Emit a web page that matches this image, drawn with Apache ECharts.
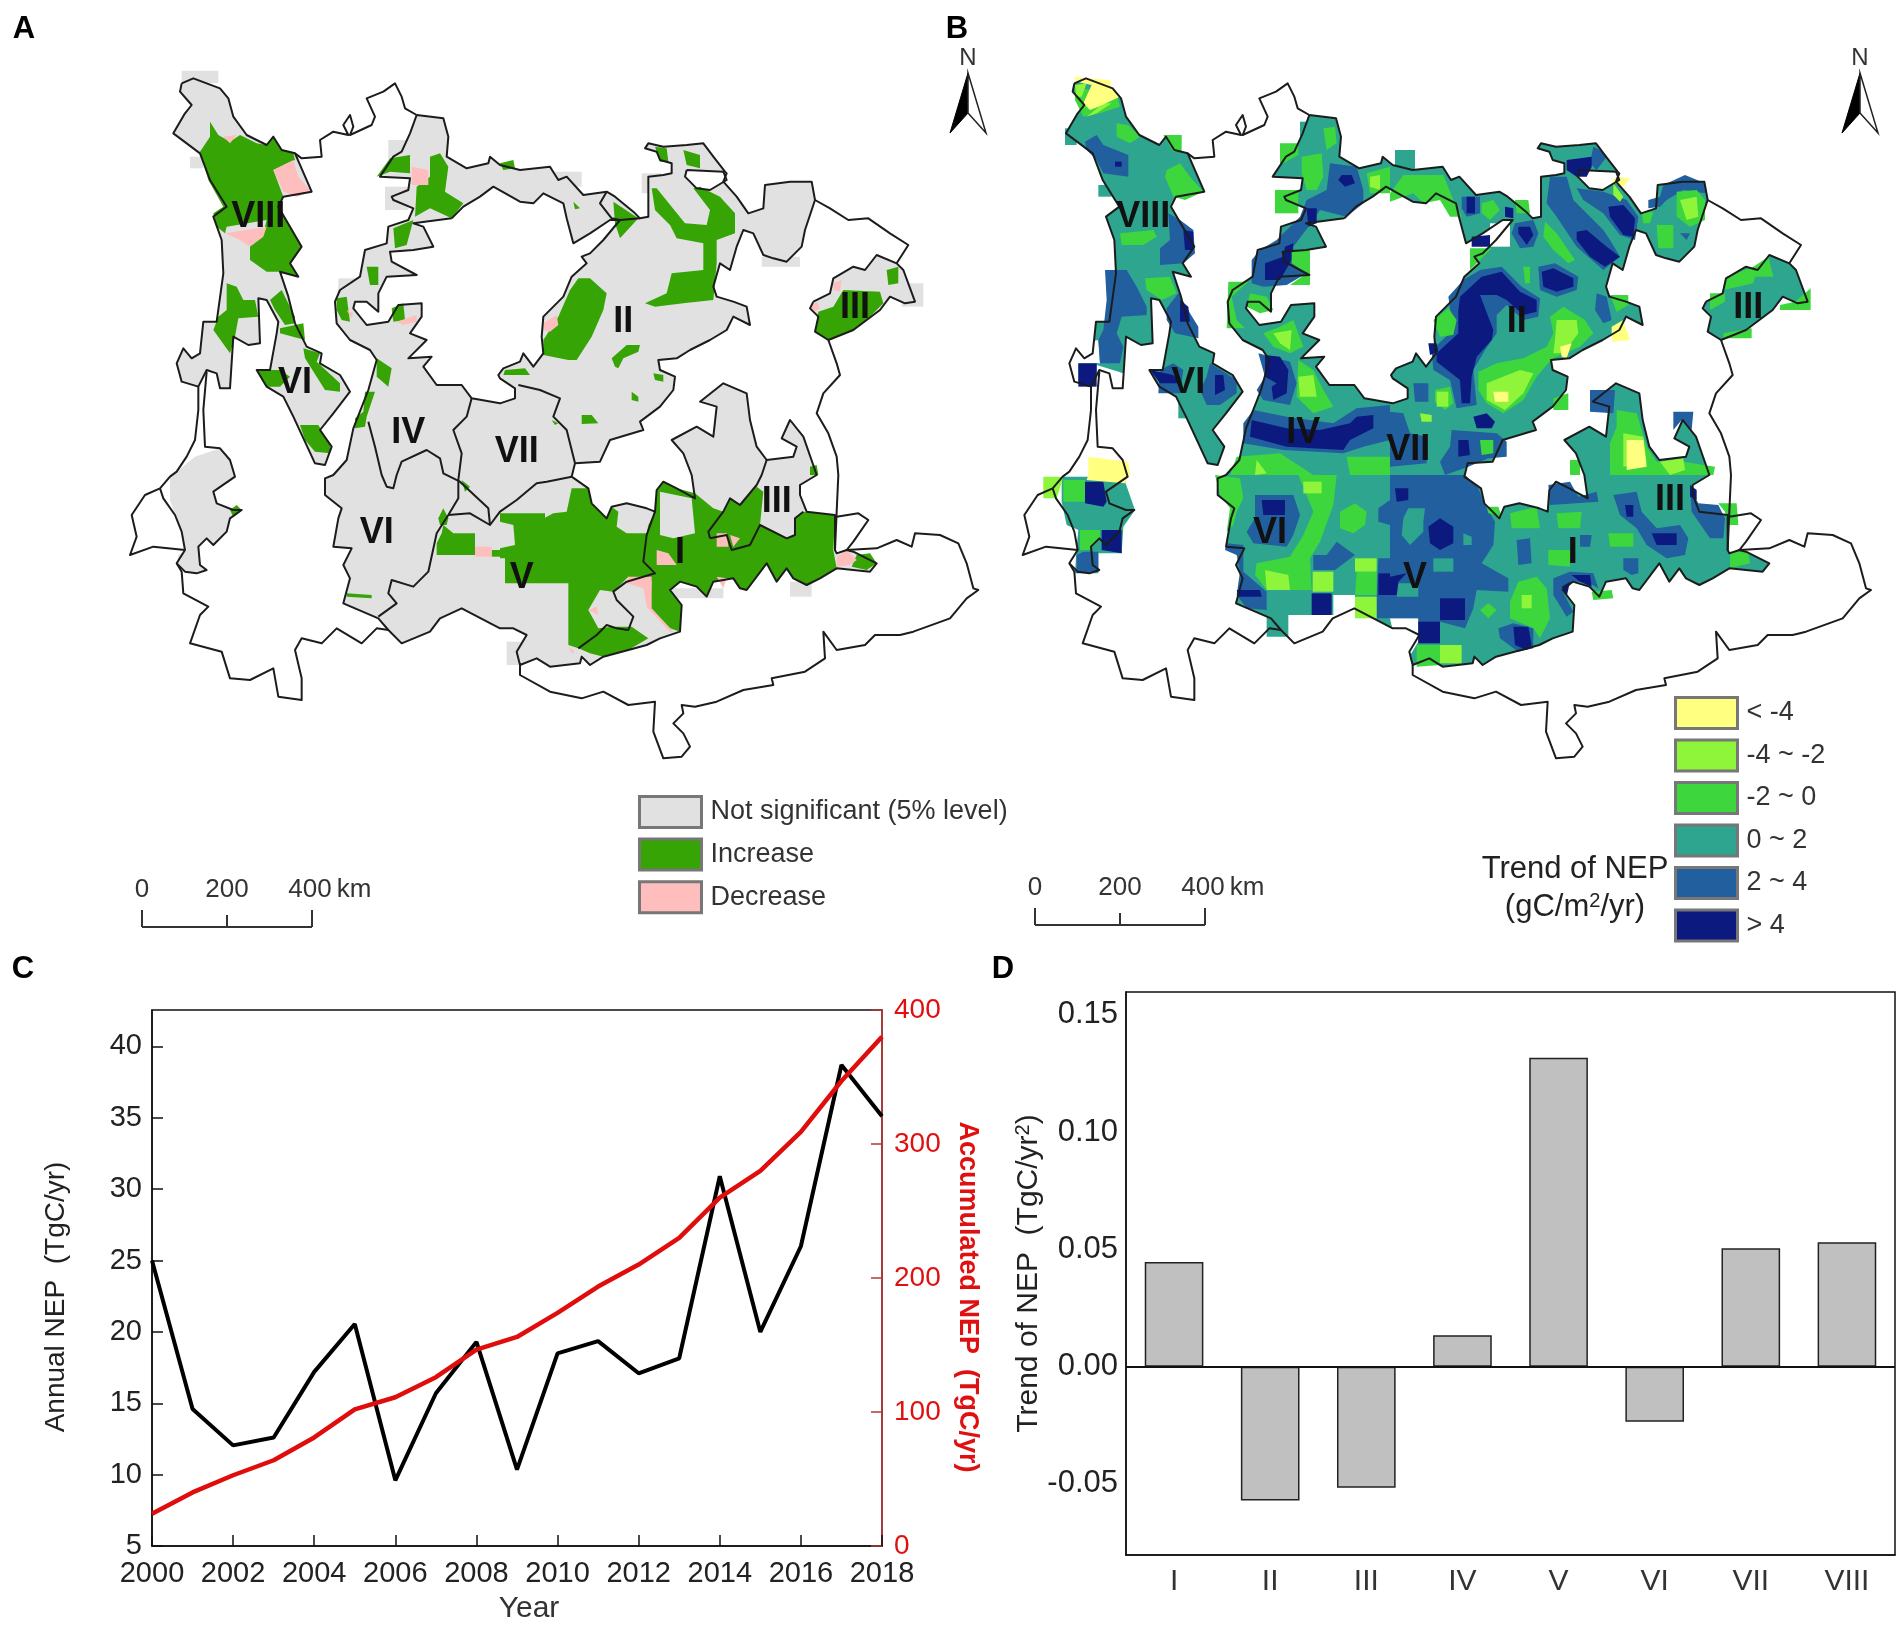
<!DOCTYPE html>
<html>
<head>
<meta charset="utf-8">
<title>NEP trend</title>
<script src="https://cdn.jsdelivr.net/npm/echarts@6/dist/echarts.min.js"></script>
<style>
html,body{margin:0;padding:0;background:#fff}
#main{width:1904px;height:1625px}
</style>
</head>
<body>
<div id="main"></div>
<script>
// panel C
var years = [2000,2001,2002,2003,2004,2005,2006,2007,2008,2009,2010,2011,2012,2013,2014,2015,2016,2017,2018];
var annualNEP = [25,14.6,12.05,12.6,17.2,20.55,9.6,15.7,19.3,10.35,18.5,19.35,17.1,18.15,30.9,20,26,38.7,35.1];
var accumulatedNEP = [24,40,52.8,64,81,102,111,126,146.5,156,174,193.6,210,230,260,280,309,347,380];

// panel D
var regions = ['I','II','III','IV','V','VI','VII','VIII'];
var regionTrend = [0.0446,-0.0571,-0.0516,0.0134,0.1317,-0.0235,0.0505,0.053];
var trendTicks = [-0.05,0,0.05,0.10,0.15];

// legends
var legendA = ['Not significant (5% level)','Increase','Decrease'];
var legendB = ['< -4','-4 ~ -2','-2 ~ 0','0 ~ 2','2 ~ 4','> 4'];
var scaleTicks = ['0','200','400'];

// map rings, flat x,y lists in map units (3000 x 2850 for a panel)
function at(dx,dy,rings){ return rings.map(function(r){ return r.map(function(v,i){ return v+(i%2?dy:dx); }); }); }
function NE(r){ return at(1500,0,r); }
function SW(r){ return at(0,1425,r); }
function SE(r){ return at(1500,1425,r); }

var landWest = [545,250,580,235,660,265,685,295,700,350,740,405,800,435,820,410,845,450,885,460,935,575,850,590,835,620,870,680,905,740,870,790,895,830,840,815,865,890,885,970,920,1040,965,1060,960,1090,1020,1125,1050,1175,1000,1240,960,1290,995,1340,975,1395,945,1390,880,1250,850,1190,800,1160,770,1110,810,1110,830,1000,835,965,800,900,775,895,780,1030,745,1035,700,1010,690,1165,660,1165,650,1120,620,1110,595,1160,545,1145,530,1090,550,1045,575,1075,600,1060,610,965,650,965,670,820,665,720,640,650,680,620,630,540,600,460,520,400,555,340,575,315,540,275];
var landSouthWest = [585,1370,660,1345,690,1380,705,1435,640,1475,650,1510,700,1530,725,1530,690,1555,680,1595,640,1635,620,1615,595,1640,600,1695,620,1710,590,1720,555,1715,530,1690,535,1665,560,1650,545,1595,525,1545,510,1500,510,1430,530,1415];
var landMain = [1250,345,1330,355,1345,410,1340,470,1400,505,1465,490,1470,470,1500,495,1560,510,1650,500,1675,540,1700,530,1750,585,1820,575,1845,590,1900,635,1920,655,1945,650,1945,530,1990,525,2015,520,2015,490,1980,480,1970,455,1935,445,1945,430,1990,440,2060,435,2110,430,2140,470,2175,515,2180,520,2170,545,2210,590,2245,640,2290,625,2295,555,2370,545,2435,545,2445,600,2415,690,2405,740,2360,785,2320,775,2290,765,2260,700,2230,690,2210,740,2190,810,2160,790,2140,860,2150,890,2200,905,2240,920,2250,975,2200,950,2180,990,2130,1020,2070,1050,2030,1075,1975,1080,1980,1110,2025,1130,2020,1170,1980,1220,1920,1265,1930,1290,1830,1320,1800,1385,1725,1390,1715,1430,1765,1465,1775,1510,1820,1555,1835,1520,1880,1510,1940,1525,1965,1535,1970,1470,1990,1445,2030,1465,2085,1495,2075,1425,2050,1360,2015,1320,2090,1280,2140,1310,2150,1220,2100,1205,2170,1150,2240,1180,2250,1260,2270,1340,2300,1380,2380,1370,2390,1340,2345,1315,2370,1260,2410,1310,2445,1410,2450,1425,2400,1455,2400,1485,2420,1535,2505,1545,2505,1650,2510,1660,2540,1650,2560,1655,2630,1690,2610,1715,2560,1710,2510,1705,2460,1735,2420,1755,2380,1735,2360,1705,2330,1745,2300,1690,2240,1770,2220,1765,2200,1735,2140,1745,2120,1790,2090,1760,2040,1745,2010,1770,2045,1815,2040,1895,1980,1915,1940,1935,1885,1950,1810,1970,1770,1995,1745,1970,1740,1990,1650,2000,1610,1975,1560,1995,1550,1955,1580,1905,1540,1885,1500,1885,1385,1825,1320,1855,1290,1895,1205,1930,1165,1890,1135,1855,1030,1810,1050,1735,1030,1695,1055,1645,1000,1640,1015,1555,1025,1525,975,1485,975,1435,1000,1425,1040,1380,1060,1285,1105,1170,1130,1080,1110,1050,1050,1020,1010,970,1005,905,1020,870,1080,830,1095,750,1160,730,1165,680,1225,660,1240,625,1180,600,1175,590,1225,570,1230,535,1140,530,1180,470,1205,455,1230,400];
var landEast = [2440,905,2490,880,2500,835,2560,800,2595,810,2630,765,2690,790,2710,810,2745,905,2715,910,2670,890,2640,930,2600,960,2560,990,2485,1020,2445,995,2455,950,2430,925];
var basinHole = [1355,655,1390,620,1440,590,1480,560,1560,605,1600,610,1630,580,1690,610,1700,655,1720,730,1770,700,1830,660,1860,660,1810,720,1770,760,1745,770,1760,790,1715,830,1690,890,1630,950,1625,1010,1630,1060,1600,1100,1570,1060,1560,1085,1510,1105,1495,1125,1500,1135,1545,1165,1545,1195,1500,1210,1415,1195,1385,1155,1310,1155,1270,1100,1295,1070,1225,1075,1280,1020,1230,1000,1265,950,1265,910,1195,915,1165,965,1100,975,1060,925,1065,905,1100,905,1135,935,1135,880,1160,830,1250,825,1175,785,1170,755,1240,750,1300,740,1270,680,1240,670];
var smallHole = [2060,510,2170,515,2180,540,2130,570,2090,565,2055,530];

var maskBlocks = [
  [545,212,655,212,655,250,545,250],[1165,420,1235,420,1235,480,1165,480],[1155,560,1225,560,1225,630,1155,630],
  [1015,835,1075,835,1075,885,1015,885],[570,470,610,470,610,505,570,505],[1375,580,1445,580,1445,645,1375,645],
  [1665,515,1745,515,1745,560,1665,560],[1565,590,1640,590,1640,650,1565,650],[1685,700,1800,700,1800,730,1685,730],
  [1925,520,1985,520,1985,580,1925,580],[2285,770,2400,770,2400,800,2285,800],[2705,850,2770,850,2770,920,2705,920],
  [2370,1745,2435,1745,2435,1790,2370,1790],[2015,1765,2170,1765,2170,1795,2015,1795],[1520,1925,1570,1925,1570,1995,1520,1995]
];
var grayRings = maskBlocks.concat([landWest,landSouthWest,landMain,landEast]);
var whiteRings = [basinHole,smallHole];

var increaseRings = [
  [630,365,655,405,690,425,720,405,770,430,800,435,820,410,845,450,880,460,885,480,820,510,850,590,835,620,870,680,905,740,870,790,895,830,840,815,800,815,750,780,750,735,790,700,800,660,680,680,675,700,650,680,640,640,670,620,625,540,600,455,630,410],
  [680,850,710,860,730,900,765,900,775,950,715,955,705,1010,690,1060,640,990,655,950,680,930],
  [810,900,845,870,885,950,885,970,855,975,825,930],
  [840,985,910,970,915,1020,840,1000],
  [910,1045,960,1060,950,1085,1020,1150,1020,1175,975,1170,915,1075],
  [770,1110,840,1110,870,1130,840,1160,800,1160],
  [900,1275,955,1275,990,1335,990,1360,945,1355,915,1320],
  [1130,530,1170,475,1230,465,1230,520,1170,515],
  [1290,470,1320,460,1345,500,1335,575,1390,610,1355,655,1290,625,1245,650,1250,560,1290,530],
  [1180,685,1240,660,1220,735,1185,745],
  [1100,800,1135,800,1135,855,1110,855],
  [1010,895,1040,890,1050,965,1025,960,1010,930],
  [1175,925,1210,910,1215,960,1180,965],
  [1130,1075,1175,1105,1165,1160,1130,1130],
  [1095,1175,1125,1175,1100,1250,1095,1280,1065,1285,1065,1255,1090,1235]
].concat(NE([
  [0,490,40,480,45,505,10,510],
  [340,605,415,655,360,715,345,670],
  [455,565,470,565,555,670,620,675,630,630,580,565,600,560,660,590,705,640,705,700,650,720,650,790,640,900,550,910,465,920,435,910,500,880,515,820,610,810,610,730,530,715,510,675,465,630],
  [235,835,270,835,320,880,310,930,275,1010,230,1080,205,1080,130,1065,130,1020,175,950,210,870],
  [345,1100,335,1075,380,1035,420,1035,415,1055,370,1075,355,1105],
  [460,1120,490,1125,490,1145,465,1140],
  [395,1175,415,1190,415,1205,395,1200],
  [245,1245,275,1245,295,1270,245,1272],
  [465,440,500,445,505,485,480,485],
  [550,450,600,465,600,505,560,495],
  [220,605,240,625,225,628],
  [1030,870,1140,875,1150,910,1110,950,1060,990,985,1020,945,995,955,935,1000,920],
  [1160,810,1195,800,1195,850,1165,855],
  [15,1110,75,1105,90,1125,10,1125],
  [155,1260,175,1270,165,1275],
  [930,1400,950,1395,955,1425,930,1425]
])).concat(SW([
  [1040,355,1115,360,1115,370,1040,365],
  [690,105,710,90,725,105,700,125],
  [1315,130,1330,100,1345,130,1340,150,1320,150],
  [1330,150,1360,175,1425,175,1425,240,1310,240,1310,205,1325,175],
  [1475,225,1500,225,1500,245,1475,245],
  [1385,15,1410,35,1395,50]
])).concat(SE([
  [0,115,135,115,135,128,160,115,200,110,215,40,265,40,275,85,320,130,335,95,355,110,350,155,380,175,440,175,445,150,465,110,470,45,490,20,530,40,585,55,640,100,670,110,625,170,630,190,680,180,695,225,750,210,780,150,860,190,885,180,885,130,910,110,1005,120,1000,225,1010,280,960,310,920,330,880,310,860,280,830,320,800,265,740,345,720,340,700,310,640,320,620,365,590,335,540,320,510,345,545,390,540,470,510,460,450,400,455,320,385,305,340,350,300,345,265,405,295,460,340,455,395,455,445,490,385,525,310,545,270,535,235,520,205,510,205,325,15,325,15,250,0,250],
  [625,170,670,110,690,70,720,90,770,35,790,50,780,150,750,210,695,225,680,180,630,190],
  [1070,240,1110,235,1130,265,1100,285,1055,275]
]));
var grayOverRings = SE([
  [0,140,40,150,45,210,0,220],
  [480,50,575,70,585,175,520,190,480,180]
]);
var decreaseRings = [
  [820,510,880,480,895,530,935,575,890,590,850,575],
  [670,410,710,405,690,430],
  [675,700,800,680,790,710,750,740,720,720],
  [1235,500,1285,510,1285,555,1235,555],
  [1040,930,1060,940,1055,955],
  [1190,965,1250,945,1250,965,1210,975]
].concat(NE([
  [130,970,170,945,175,975,150,995,130,990],
  [1000,850,1025,840,1020,875,1000,870],
  [930,920,950,905,960,925,940,935]
])).concat(SW([
  [1425,215,1475,215,1475,245,1425,245]
])).concat(SE([
  [385,305,455,305,455,400,520,470,510,470,440,395,430,340,380,325],
  [265,405,290,395,295,420],
  [205,515,225,530,215,535],
  [470,225,505,235,530,270,470,270],
  [650,175,680,175,685,215,650,215],
  [690,180,720,190,700,215],
  [650,305,680,310,670,340],
  [1010,245,1040,225,1070,255,1050,270,1010,275]
]));

// panel B, same map units, cut in the order the classes overlap
var tealBlocks = [
  [525,385,560,385,560,435,525,435],[625,555,665,555,665,590,625,590],[865,1190,915,1190,915,1255,865,1255],
  [1230,365,1260,365,1260,430,1230,430],[1515,450,1575,450,1575,510,1515,510]
].concat(SW([[1130,345,1260,345,1260,420,1195,420,1195,485,1130,485],[1330,285,1395,285,1395,360,1330,360]]));
var tealBase = at(8,0,[landWest,landMain,landEast]).concat(tealBlocks).concat([
  [515,1430,700,1430,735,1530,700,1580,695,1660,625,1660,625,1720,555,1720,560,1640,565,1590,530,1575,515,1505]
]);
var whiteB = at(8,0,[basinHole,smallHole]).concat([
  [525,1040,625,1020,630,1090,565,1090,565,1165,525,1165],
  [620,1095,700,1120,700,1170,620,1170],
  [1920,600,1955,600,1955,650,1920,650],
  [1800,670,1860,670,1860,740,1800,740],
  [1195,1845,1330,1845,1330,1785,1395,1785,1395,1855,1320,1870,1290,1910,1210,1945,1195,1910],
  [1500,1855,1585,1855,1585,1925,1555,1975,1510,1900]
]);
var blueRings = [
  [585,425,620,405,640,435,715,465,715,530,640,520,620,480,590,450],
  [835,640,870,660,910,690,915,760,880,790,810,795,810,745,840,720],
  [645,810,710,810,740,860,770,920,770,945,695,950,680,1000,700,1040,690,1090,630,1090,625,1020,640,990,650,900],
  [830,925,865,880,900,940,925,980,925,1015,855,1000,830,960],
  [810,1110,850,1090,880,1110,870,1180,805,1180],
  [960,1090,1040,1140,1040,1180,990,1215,950,1215,930,1170,950,1130],
  [1320,490,1400,500,1420,570,1420,610,1370,650,1290,630,1255,680,1210,740,1215,790,1250,820,1190,855,1120,860,1085,850,1085,780,1110,750,1160,720,1230,650,1250,600,1310,570],
  [1105,1060,1200,1085,1220,1150,1200,1215,1120,1200,1100,1170,1125,1130],
  [1060,1270,1090,1230,1190,1250,1330,1270,1400,1225,1500,1215,1500,1320,1420,1340,1360,1360,1180,1350,1060,1330]
].concat(NE([
  [480,530,530,530,550,600,640,690,660,720,690,770,640,810,560,740,500,650,470,610],
  [560,565,640,575,710,600,745,650,735,720,690,705,640,640,580,600],
  [630,450,650,470,620,510,600,490,610,440],
  [270,810,335,800,395,860,450,895,445,950,400,960,350,915,320,945,320,1000,285,1050,250,1110,260,1215,200,1225,180,1140,130,1110,125,1050,190,990,175,890,220,840],
  [445,800,495,790,565,830,560,870,500,890,450,870],
  [620,880,650,890,665,960,640,970,615,930],
  [375,670,430,660,445,700,430,740,390,745,365,700],
  [215,590,270,590,270,640,230,650,215,625],
  [820,555,885,525,945,550,945,580,880,570,830,600,810,620,775,625,775,600,810,590],
  [870,700,900,700,890,720],
  [70,1150,115,1150,115,1205,75,1205],
  [185,1290,320,1300,350,1325,350,1370,295,1375,235,1400,165,1425,150,1385,180,1340],
  [0,1235,40,1240,60,1300,110,1310,110,1390,0,1400],
  [600,1170,675,1170,670,1240,600,1235],
  [850,1235,910,1235,905,1290,875,1260,850,1290]
])).concat(SW([
  [580,230,625,230,625,290,560,295,560,240],
  [1095,60,1210,60,1230,120,1210,180,1190,215,1090,205,1070,170,1095,130],
  [1270,240,1310,240,1340,200,1395,240,1335,285,1270,285],
  [1465,250,1500,250,1500,430,1460,430,1460,360],
  [1465,100,1500,75,1500,150,1465,140],
  [1010,205,1060,210,1060,290,1130,350,1130,405,1070,400,1040,360,1050,290,1040,240,1005,225]
])).concat(SE([
  [0,0,225,0,265,40,285,90,315,140,310,210,275,265,355,310,355,350,260,345,250,400,225,460,150,440,85,505,85,430,0,430],
  [380,195,420,190,425,265,385,270],
  [570,180,605,180,600,215,570,215],
  [670,60,740,50,755,110,800,160,870,150,895,190,885,240,830,250,770,210,740,160,690,120],
  [700,250,745,250,745,295,725,300,700,285],
  [490,310,540,290,610,295,625,340,590,320,545,320,515,345,550,410,530,425,490,360],
  [475,30,540,20,565,65,620,50,625,80,480,90],
  [900,40,925,85,985,90,1005,130,1000,190,960,190,905,110],
  [325,460,370,445,430,460,430,520,385,530,330,490]
]));
var tealOverRings = SE([
  [55,100,105,100,100,140,100,170,60,210,35,180,40,130],
  [130,250,190,250,190,290,130,290],
  [25,325,85,325,85,365,20,365],
  [220,175,245,185,245,210,220,210]
]);
var navyRings = [
  [880,690,910,695,910,750,885,750],
  [870,900,895,920,900,965,870,965],
  [565,1090,620,1090,620,1160,565,1160],
  [780,1110,850,1125,870,1150,810,1150],
  [975,1125,1000,1125,1005,1170,975,1185],
  [1125,790,1180,770,1185,740,1210,730,1205,780,1170,840,1125,840],
  [1125,1065,1170,1070,1195,1110,1190,1180,1150,1200,1145,1160,1160,1150,1125,1130],
  [1085,1260,1190,1285,1290,1290,1380,1270,1400,1250,1450,1245,1450,1285,1380,1320,1360,1350,1190,1340,1080,1310],
  [1355,525,1385,525,1395,550,1365,560,1345,540],
  [675,485,695,485,695,500,675,500],
  [1250,625,1280,625,1280,670,1255,680]
].concat(NE([
  [530,480,605,470,605,500,590,530,560,530,530,510],
  [655,620,700,615,735,655,730,710,700,705,660,650],
  [560,695,590,690,650,740,690,770,645,800,600,770,560,720],
  [385,680,420,680,430,705,410,735,385,700],
  [455,815,490,805,550,835,550,860,500,875,460,860],
  [275,830,335,815,390,875,440,900,440,935,400,945,350,900,320,885,270,885,310,990,305,1020,260,1070,245,1130,240,1210,215,1210,210,1140,140,1085,140,1060,205,1000,205,930,210,890],
  [115,1030,140,1030,145,1055,120,1065],
  [250,1250,290,1240,315,1265,305,1285,260,1285],
  [205,1320,235,1320,240,1365,205,1370],
  [230,590,255,590,255,640,230,640],
  [345,620,370,625,370,655,345,650],
  [245,710,300,705,300,740,245,740]
])).concat(SW([
  [585,20,640,20,650,80,640,95,585,85],
  [635,165,695,165,695,235,635,225],
  [1115,75,1185,75,1185,120,1120,120],
  [1265,355,1325,355,1325,420,1265,420],
  [1465,295,1500,295,1500,360,1465,360],
  [1040,345,1110,345,1115,365,1045,365]
])).concat(SE([
  [15,40,55,40,55,75,20,80],
  [115,155,150,130,190,155,190,205,150,225,120,205],
  [150,370,225,370,225,435,150,435],
  [85,440,150,440,150,505,85,505],
  [0,305,50,295,25,320,20,360,0,360],
  [785,175,860,175,860,210,800,210],
  [370,455,415,455,425,510,410,525,375,510],
  [515,335,540,320,530,365],
  [545,300,600,300,605,335,570,320],
  [900,30,920,45,920,75,900,65],
  [705,90,730,90,730,125,710,125]
]));
var greenRings = [
  [555,260,600,270,640,260,680,280,690,320,630,340,580,350,555,300],
  [680,370,715,375,750,410,720,430,680,410],
  [830,510,870,490,900,530,940,575,885,600,850,590,825,530],
  [820,405,875,405,875,455,850,455],
  [690,700,790,690,800,710,760,735,695,735],
  [765,835,840,830,860,880,815,900,770,870],
  [1235,470,1295,460,1300,530,1280,570,1250,570,1235,520],
  [1300,385,1335,380,1340,430,1310,450],
  [1170,430,1225,430,1225,465,1180,490,1170,490],
  [1155,570,1225,570,1225,640,1155,640],
  [1205,750,1260,750,1260,855,1200,855,1250,820,1205,790],
  [1015,845,1075,845,1025,890,1040,960,1065,985,1010,985],
  [1080,880,1130,890,1150,930,1110,940,1070,920],
  [1120,1000,1170,980,1210,960,1240,1040,1200,1060,1150,1040],
  [1225,1080,1270,1110,1300,1170,1330,1220,1270,1240,1220,1190],
  [1430,520,1500,500,1500,580,1440,580],
  [1040,1370,1170,1360,1270,1425,1020,1425],
  [1370,1370,1500,1370,1500,1425,1380,1425]
].concat(SW([
  [975,0,1050,10,1060,70,1040,110,1030,150,1010,170,1020,100,990,60],
  [1225,0,1340,0,1330,90,1290,200,1260,250,1265,345,1130,345,1095,300,1100,265,1200,245,1240,180,1270,110],
  [1350,110,1395,85,1430,110,1425,150,1390,175,1350,160],
  [1400,290,1460,290,1460,360,1395,360],
  [520,15,585,15,585,80,520,80],
  [570,165,630,165,630,190,600,225,570,225]
])).concat(SE([
  [360,115,440,95,450,160,365,160],
  [500,115,575,110,570,160,505,160],
  [655,175,730,175,730,215,660,215],
  [475,225,540,225,540,275,475,270],
  [360,380,385,320,440,305,470,340,480,430,450,490,430,460,360,430],
  [270,405,295,385,320,405,295,430],
  [290,95,325,95,335,125,295,115],
  [1020,230,1075,230,1080,265,1020,280],
  [985,85,1040,85,1045,150,1015,150,1005,110],
  [80,510,150,510,150,570,80,575],
  [605,350,665,345,670,370,610,375]
])).concat(NE([
  [0,580,40,525,160,525,190,600,215,650,180,650,150,600,100,610,70,580,0,605],
  [275,610,310,600,330,630,300,660,275,640],
  [375,600,415,600,420,640,380,640],
  [465,665,500,700,555,780,535,790,490,750,460,710],
  [400,800,420,800,420,850,405,850],
  [130,960,175,925,200,960,190,1005,150,1010],
  [240,745,305,745,250,800,240,810],
  [800,675,850,675,850,745,805,745],
  [860,575,920,570,945,600,945,660,900,680,860,650],
  [755,640,790,635,780,670,760,670],
  [480,950,520,920,585,960,610,1000,570,1040,490,1075,470,1095,440,1130,400,1200,340,1240,290,1210,265,1170,265,1115,320,1090,400,1075,470,1040,490,1000],
  [135,1170,180,1160,190,1210,165,1230,135,1205],
  [270,1320,310,1320,310,1360,275,1365],
  [1010,830,1090,800,1135,770,1150,830,1095,830,1090,850,1000,870,1005,840],
  [960,880,1005,880,1005,905,960,930],
  [1000,1000,1085,985,1085,1015,1000,1015],
  [1170,915,1215,905,1262,865,1262,930,1170,930],
  [680,1230,740,1240,770,1340,800,1385,880,1385,975,1400,970,1425,660,1425,660,1330,680,1280],
  [540,1380,570,1380,570,1425,540,1425],
  [490,1195,535,1180,535,1230,490,1230],
  [660,885,715,885,715,915,680,935]
]));
var limeRings = [
  [555,255,590,250,575,290,560,290],
  [1150,1000,1205,990,1200,1050,1170,1030],
  [1225,1130,1270,1125,1280,1190,1230,1190],
  [1100,1380,1130,1420,1095,1425],
  [1440,530,1470,525,1470,570,1440,560],
  [590,350,640,310,665,310,620,340]
].concat(SW([
  [460,5,520,5,500,70,460,70],
  [1125,285,1195,300,1200,345,1130,345],
  [1268,290,1330,290,1330,350,1268,350],
  [1395,250,1460,250,1460,290,1395,290],
  [1395,365,1460,365,1460,430,1395,430],
  [1240,20,1295,20,1295,55,1240,55]
])).concat(SE([
  [150,510,215,510,215,565,150,565],
  [395,360,425,360,425,400,395,400]
])).concat(NE([
  [290,1150,390,1110,430,1120,400,1180,345,1230,290,1200],
  [500,960,560,960,565,1000,520,1060,490,1060,495,1020],
  [870,600,920,590,925,650,890,660],
  [140,1175,175,1175,175,1220,140,1220],
  [90,1240,125,1245,125,1265,95,1265],
  [670,550,700,590,690,605,670,585],
  [700,1300,760,1310,770,1390,700,1400],
  [810,1385,880,1375,885,1410,840,1425]
]));
var yellowRings = [
  [550,230,590,235,660,240,665,265,690,290,625,320,600,330,580,310,605,255,560,245],
  [595,1370,715,1385,720,1425,595,1425]
].concat(SW([
  [595,0,715,0,705,25,590,15]
])).concat(NE([
  [680,530,720,535,700,560,665,545],
  [665,980,700,960,720,1020,665,1025],
  [510,1040,545,1030,530,1075,515,1070],
  [310,1175,355,1175,355,1205,315,1205],
  [710,1320,760,1320,770,1400,710,1410]
]));

function closed(r){ return r.concat([r[0],r[1]]); }
// the outer borders show on both maps, the region borders only on A
var outerLines = [closed(landWest),closed(landMain),closed(landEast),closed(basinHole),closed(smallHole)].concat([
  [885,460,905,475,965,470,960,420,1000,395,1045,405,1030,375,1050,345,1060,380,1050,405,1115,375,1125,350,1100,295,1150,275,1185,250,1205,290,1215,325,1250,345],
  [620,1115,610,1230,615,1340,660,1345,690,1380,705,1430,640,1475,650,1510,700,1530,725,1530,690,1555,680,1595,640,1635,620,1615,595,1640,600,1695,620,1710,590,1720,555,1715,530,1690],
  [480,1465,490,1495,525,1545,545,1595,555,1650],
  [595,1160,595,1230,585,1320,560,1370,530,1415,510,1430,480,1465,435,1485,395,1545,410,1610,390,1665,460,1640,555,1650,530,1690,545,1715,550,1780,625,1820,600,1845,570,1930,665,1955,690,2035,750,2040,820,2005,835,2090,905,2100,905,2035,885,1950,905,1915,965,1930,1010,1885,1085,1930,1130,1885,1165,1890],
  [2445,600,2490,625,2545,660,2605,655,2670,700,2725,735,2690,790],
  [2485,1020,2510,1090,2520,1125,2470,1180,2450,1240,2485,1300,2510,1370,2515,1425,2510,1535,2505,1650]
]).concat(SE([
  [60,570,60,600,150,650,245,670,310,650,385,690,465,680,460,770,490,850,545,845,570,815,550,775,520,745,550,715,545,690,585,695,650,680,730,645,820,630,815,610,915,590,975,550,970,470,1010,525,1095,510,1125,480,1200,480,1240,470,1350,430,1400,370,1435,345,1420,340,1400,265,1375,205,1320,180,1245,175,1235,215,1190,195,1130,220,1040,225,1060,200,1105,135,1075,115,1010,125]
]));
var innerLines = [
  [1105,1265,1125,1340,1145,1425,1160,1460,1180,1465,1190,1425,1205,1385,1280,1350,1320,1375,1330,1420,1380,1445,1465,1525,1470,1575],
  [1415,1195,1400,1250,1360,1290,1385,1360,1375,1440,1375,1495,1345,1545,1310,1600,1285,1715,1240,1760,1175,1740,1165,1780,1190,1810,1135,1850],
  [1345,1545,1410,1540,1470,1575,1500,1535,1550,1500,1610,1450,1640,1445,1715,1430],
  [1555,1155,1620,1170,1680,1195,1660,1250,1700,1290,1715,1350,1725,1390],
  [1965,1535,1940,1605,1930,1685,1965,1720,1880,1745,1840,1775,1850,1800,1900,1850,1885,1890,1850,1885,1820,1875,1790,1905,1735,1945],
  [2130,1615,2125,1595,2170,1535,2190,1495,2220,1515,2270,1455,2285,1425,2300,1380],
  [2130,1615,2180,1605,2195,1650,2250,1635,2280,1575,2360,1615,2385,1605,2385,1555,2410,1535],
  [1820,575,1800,610,1835,655,1860,660,1920,655]
];

var labelNames = ['VIII','VI','IV','VII','II','III','VI','V','I','III'];
var labelXA = [775,885,1225,1550,1870,2565,1130,1565,2040,2330];
var labelYA = [650,1150,1300,1355,965,925,1600,1735,1660,1505];
var labelXB = [760,895,1240,1555,1880,2575,1140,1575,2048,2340];
var labelYB = [650,1150,1300,1350,965,925,1600,1735,1660,1500];

var greyA = '#e1e1e1', greenA = '#37a405', pinkA = '#ffbebe';
var classColors = ['#ffff80','#8ff53b','#3dd63d','#2ea58f','#215f9e','#0c1a80'];
var fontName = '"Liberation Sans", Arial, sans-serif';

function ringSeries(name, rings, color, grid){
  return {
    type:'custom', name:name, xAxisIndex:grid, yAxisIndex:grid, silent:true,
    clip:false, itemStyle:{color:color},
    data: rings.map(function(r,i){ return [i,0]; }),
    renderItem:function(params, api){
      var r = rings[params.dataIndex], pts = [];
      for (var i=0;i<r.length;i+=2) pts.push(api.coord([r[i],r[i+1]]));
      return {type:'polygon', shape:{points:pts}, style:{fill:color}};
    }
  };
}
function lineSeries(lines, grid, dx){
  return {
    type:'custom', name:'border', xAxisIndex:grid, yAxisIndex:grid, silent:true, clip:false,
    data: lines.map(function(r,i){ return [i,0]; }),
    renderItem:function(params, api){
      var r = lines[params.dataIndex], pts = [];
      for (var i=0;i<r.length;i+=2) pts.push(api.coord([r[i]+dx,r[i+1]]));
      return {type:'polyline', shape:{points:pts}, style:{fill:null, stroke:'#1c1c1c', lineWidth:2, lineJoin:'round'}};
    }
  };
}
function labelSeries(xs, ys, grid){
  return {
    type:'custom', name:'labels', xAxisIndex:grid, yAxisIndex:grid, silent:true, clip:false,
    data: labelNames.map(function(n,i){ return [xs[i],ys[i]]; }),
    renderItem:function(params, api){
      var p = api.coord([api.value(0),api.value(1)]);
      return {type:'text', x:p[0], y:p[1], style:{text:labelNames[params.dataIndex], align:'center', verticalAlign:'middle', fill:'#111', font:'bold 36px '+fontName}};
    }
  };
}

function txt(x,y,s,font,fill,align){
  return {type:'text', x:x, y:y, silent:true, style:{text:s, font:font+' '+fontName, fill:fill||'#333', align:align||'center', verticalAlign:'middle'}};
}
function seg(x1,y1,x2,y2){
  return {type:'line', silent:true, shape:{x1:x1,y1:y1,x2:x2,y2:y2}, style:{stroke:'#333',lineWidth:2}};
}
function scaleBar(x0,x1,y,ty,kmX){
  var mid=(x0+x1)/2;
  return [seg(x0,y-17,x0,y),seg(mid,y-12,mid,y),seg(x1,y-17,x1,y),seg(x0,y,x1,y),
    txt(x0,ty,scaleTicks[0],'26px'),txt(mid,ty,scaleTicks[1],'26px'),txt(x1-2,ty,scaleTicks[2],'26px'),txt(kmX,ty,'km','26px')];
}
function northArrow(cx){
  return [
    txt(cx,58,'N','24px','#333'),
    {type:'polygon',silent:true,shape:{points:[[cx,73],[cx-18,133],[cx,113]]},style:{fill:'#000',stroke:'#000',lineWidth:1}},
    {type:'polygon',silent:true,shape:{points:[[cx,73],[cx+18,133],[cx,113]]},style:{fill:'#fff',stroke:'#222',lineWidth:1.5}}
  ];
}

var unitText = txt(1575,907,'(gC/m{s|2}/yr)','31px','#222');
unitText.style.rich = {s:{fontSize:20, fill:'#222', verticalAlign:'top', fontFamily:fontName}};

var graphics = [
  txt(24,29,'A','bold 31px','#000'), txt(957,29,'B','bold 31px','#000'),
  txt(23,969,'C','bold 31px','#000'), txt(1003,969,'D','bold 31px','#000'),
  txt(1575,869,'Trend of NEP','31px','#222'), unitText
].concat(scaleBar(142,312,927,890,354),scaleBar(1035,1205,925,888,1247),northArrow(968),northArrow(1860));

var axisText = {color:'#222', fontSize:29, fontFamily:fontName};
var tickBlack = {inside:true, length:11, lineStyle:{color:'#111',width:1.5}};
var lineBlack = {show:true, onZero:false, lineStyle:{color:'#111',width:1.5}};
var tickRed = {inside:true, length:11, lineStyle:{color:'#b03a3a',width:1.5}};
var lineRed = {show:true, lineStyle:{color:'#b03a3a',width:1.8}};
var legendText = {fontSize:27, lineHeight:28, color:'#333', fontFamily:fontName, padding:[0,0,0,4]};

function mapX(i){ return {gridIndex:i, type:'value', min:0, max:3000, show:false}; }
function mapY(i){ return {gridIndex:i, type:'value', min:0, max:2850, inverse:true, show:false}; }

var option = {
  animation:false,
  backgroundColor:'#fff',
  textStyle:{fontFamily:fontName},
  graphic:graphics,
  legend:[
    {data:legendA, selectedMode:false, orient:'vertical', left:638, top:795, padding:0, itemWidth:62, itemHeight:31, itemGap:8.6,
     icon:'rect', itemStyle:{borderColor:'#777',borderWidth:3}, textStyle:legendText},
    {data:legendB, selectedMode:false, orient:'vertical', left:1674, top:696, padding:0, itemWidth:62, itemHeight:31, itemGap:8.5,
     icon:'rect', itemStyle:{borderColor:'#777',borderWidth:3}, textStyle:legendText}
  ],
  grid:[
    {left:0, top:0, width:1000, height:950},
    {left:890, top:0, width:1000, height:950},
    {left:152, top:1010, width:730, height:538, show:true, borderColor:'#111', borderWidth:1.5},
    {left:1126, top:992, width:769, height:563, show:true, borderColor:'#111', borderWidth:1.5}
  ],
  xAxis:[
    mapX(0), mapX(1),
    {gridIndex:2, type:'value', min:2000, max:2018, interval:2, name:'Year', nameLocation:'middle', nameGap:48,
     nameTextStyle:{color:'#333',fontSize:30,padding:[0,0,0,24]}, axisLine:lineBlack, axisTick:tickBlack, splitLine:{show:false},
     axisLabel:{color:'#222',fontSize:29,fontFamily:fontName,margin:13,formatter:function(v){return String(v);}}},
    {gridIndex:3, type:'category', data:regions, axisLine:lineBlack,
     axisTick:{inside:true,length:11,alignWithLabel:true,lineStyle:{color:'#111',width:1.5}},
     axisLabel:{color:'#333',fontSize:30,fontFamily:fontName,margin:12}}
  ],
  yAxis:[
    mapY(0), mapY(1),
    {gridIndex:2, type:'value', min:5, max:42.55, interval:5, name:'Annual NEP  (TgC/yr)', nameLocation:'middle', nameGap:82,
     nameTextStyle:{color:'#222',fontSize:28,padding:[0,38,0,0]}, axisLine:lineBlack, axisTick:tickBlack, splitLine:{show:false},
     axisLabel:Object.assign({showMaxLabel:false,margin:10},axisText)},
    {gridIndex:2, type:'value', position:'right', min:0, max:400, interval:100, name:'Accumulated NEP  (TgC/yr)', nameLocation:'middle', nameGap:72, nameRotate:-90,
     nameTextStyle:{color:'#e01010',fontSize:27,fontWeight:'bold',padding:[0,0,0,38]}, axisLine:lineRed, axisTick:tickRed, splitLine:{show:false},
     axisLabel:{color:'#e01010',fontSize:28,fontFamily:fontName,margin:12}},
    {gridIndex:3, type:'value', min:-0.0803, max:0.1597, name:'Trend of NEP  (TgC/yr{s|2})', nameLocation:'middle', nameGap:82,
     nameTextStyle:{color:'#222',fontSize:30,rich:{s:{fontSize:20,color:'#222',verticalAlign:'top'}}}, axisLine:lineBlack,
     axisTick:Object.assign({customValues:trendTicks},tickBlack), splitLine:{show:false},
     axisLabel:{customValues:trendTicks,color:'#222',fontSize:31,fontFamily:fontName,margin:8,formatter:function(v){return v.toFixed(2);}}}
  ],
  series:[
    ringSeries(legendA[0],grayRings,greyA,0),
    ringSeries('white A',whiteRings,'#fff',0),
    ringSeries(legendA[1],increaseRings,greenA,0),
    ringSeries('grey over A',grayOverRings,greyA,0),
    ringSeries(legendA[2],decreaseRings,pinkA,0),
    lineSeries(outerLines.concat(innerLines),0,0),
    labelSeries(labelXA,labelYA,0),

    ringSeries(legendB[3],tealBase,classColors[3],1),
    ringSeries('white B',whiteB,'#fff',1),
    ringSeries(legendB[4],blueRings,classColors[4],1),
    ringSeries('teal over B',tealOverRings,classColors[3],1),
    ringSeries(legendB[5],navyRings,classColors[5],1),
    ringSeries(legendB[2],greenRings,classColors[2],1),
    ringSeries(legendB[1],limeRings,classColors[1],1),
    ringSeries(legendB[0],yellowRings,classColors[0],1),
    lineSeries(outerLines,1,8),
    labelSeries(labelXB,labelYB,1),

    {type:'line', name:'Annual NEP', xAxisIndex:2, yAxisIndex:2, showSymbol:false, silent:true,
     lineStyle:{color:'#000',width:4}, data:years.map(function(y,i){return [y,annualNEP[i]];})},
    {type:'line', name:'Accumulated NEP', xAxisIndex:2, yAxisIndex:3, showSymbol:false, silent:true,
     lineStyle:{color:'#e00d0d',width:4.5}, data:years.map(function(y,i){return [y,accumulatedNEP[i]];})},

    {type:'bar', name:'Trend', xAxisIndex:3, yAxisIndex:4, barWidth:'61%', silent:true,
     itemStyle:{color:'#c0c0c0',borderColor:'#222',borderWidth:1.5}, data:regionTrend,
     markLine:{silent:true, symbol:'none', label:{show:false}, lineStyle:{color:'#111',width:2,type:'solid'}, data:[{yAxis:0}]}}
  ]
};

var chart = echarts.init(document.getElementById('main'));
chart.setOption(option);
</script>
</body>
</html>
